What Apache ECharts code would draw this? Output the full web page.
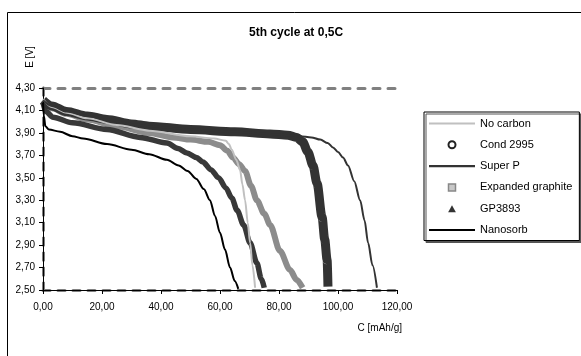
<!DOCTYPE html>
<html>
<head>
<meta charset="utf-8">
<script src="https://cdn.jsdelivr.net/npm/echarts@6/dist/echarts.min.js"></script>
<style>html,body{margin:0;padding:0;background:#fff}#c{width:581px;height:356px}</style>
</head>
<body>
<div id="c"></div>
<script>
// ---- data (C [mAh/g], E [V]) ----
const xTicks = [0, 20, 40, 60, 80, 100, 120];
const yTicks = [2.5, 2.7, 2.9, 3.1, 3.3, 3.5, 3.7, 3.9, 4.1, 4.3];
const legendNames = ['No carbon', 'Cond 2995', 'Super P', 'Expanded graphite', 'GP3893', 'Nanosorb'];

const noCarbonC = [0, 3, 8, 15, 25, 36, 50, 58, 62, 63, 64, 65.5, 66.8, 67.6, 68.5, 69.4, 70.2, 71, 71.9];
const noCarbonE = [4.20, 4.13, 4.08, 4.03, 3.97, 3.92, 3.87, 3.85, 3.83, 3.80, 3.75, 3.66, 3.57, 3.44, 3.30, 3.10, 2.92, 2.72, 2.52];

const condC = [0, 3, 8, 15, 21.7, 30, 36, 50, 65, 77, 83, 86, 88, 89.8, 91.5, 92.9, 94.6, 95.5, 96.3, 96.6];
const condE = [4.19, 4.14, 4.09, 4.05, 4.02, 3.98, 3.96, 3.93, 3.91, 3.89, 3.88, 3.86, 3.82, 3.73, 3.61, 3.45, 3.15, 2.95, 2.77, 2.53];

const superPC = [0, 3, 8, 15, 21.7, 30, 36, 50, 65, 77, 83, 87, 91, 94, 96.5, 98.3, 100, 101.7, 103.4, 105.5, 107.5, 109, 110.2, 111.7, 113.2];
const superPE = [4.19, 4.14, 4.09, 4.05, 4.02, 3.98, 3.96, 3.93, 3.91, 3.89, 3.88, 3.87, 3.86, 3.84, 3.81, 3.77, 3.73, 3.68, 3.61, 3.47, 3.30, 3.12, 2.92, 2.72, 2.52];

const expC = [0, 3, 8, 15, 25, 36, 44, 50, 56, 60, 62.5, 64.4, 66.5, 68.5, 70.5, 72.5, 75, 77, 80.3, 83.7, 86, 88];
const expE = [4.19, 4.12, 4.07, 4.02, 3.96, 3.90, 3.86, 3.84, 3.82, 3.79, 3.74, 3.68, 3.62, 3.56, 3.43, 3.30, 3.18, 3.08, 2.85, 2.68, 2.59, 2.52];

const gpC = [0, 1, 3.4, 10, 21.7, 32.9, 42, 45.8, 48.8, 52, 54.2, 57, 59.5, 62, 64, 65.8, 68, 70.2, 72.5, 74, 75];
const gpE = [4.17, 4.09, 4.04, 3.99, 3.93, 3.86, 3.81, 3.76, 3.72, 3.68, 3.64, 3.57, 3.50, 3.41, 3.32, 3.21, 3.08, 2.92, 2.74, 2.60, 2.52];

const nanoC = [0, 0.3, 0.8, 2, 5.8, 10, 13.6, 21.7, 30, 36, 42, 46, 49, 52, 54.5, 56.6, 58.3, 60, 61.7, 63.4, 65, 66.2];
const nanoE = [4.17, 4.05, 3.96, 3.93, 3.91, 3.87, 3.85, 3.80, 3.75, 3.71, 3.66, 3.61, 3.56, 3.49, 3.40, 3.30, 3.16, 3.01, 2.86, 2.70, 2.58, 2.51];

const pairs = (xs, ys) => xs.map((x, i) => [x, ys[i]]);
const fmt = v => Number(v).toFixed(2).replace('.', ',');
const FONT = 'Arial, "Liberation Sans", sans-serif';

const dashAxis = (pos) => ({
  position: pos, axisLine: { show: true, lineStyle: { color: '#808080', width: 3, type: [7, 8] } },
  axisTick: { show: false }, axisLabel: { show: false }, splitLine: { show: false }, z: 1
});

const chart = echarts.init(document.getElementById('c'), null, { renderer: 'canvas' });
const line = (name, data, color, width, z) => ({
  name, type: 'line', data: pairs(data[0], data[1]), symbol: 'none', smooth: 0.3, smoothMonotone: 'x',
  lineStyle: { color, width }, itemStyle: { color }, z, animation: false
});

const LINE_ICON = 'path://M0,0 H48 V2.2 H0 Z';
const SQUARE_ICON = 'path://M0,0 H10 V10 H0 Z';
const TRI_ICON = 'path://M5,0 L10,9 L0,9 Z';

chart.setOption({
  animation: false,
  textStyle: { fontFamily: FONT },
  title: { text: '5th cycle at 0,5C', left: 244, top: 22, textStyle: { fontSize: 12, fontWeight: 'bold', color: '#000', fontFamily: FONT } },
  grid: { left: 43, right: 184, top: 88, bottom: 66 },
  xAxis: [
    { type: 'value', min: xTicks[0], max: xTicks[xTicks.length - 1], interval: 20, position: 'bottom', z: 5,
      axisLine: { lineStyle: { color: '#000', width: 1 } },
      axisTick: { show: true, inside: false, length: 4, lineStyle: { color: '#000' } },
      axisLabel: { formatter: fmt, color: '#000', fontSize: 10, margin: 12, fontFamily: FONT },
      splitLine: { show: false } },
    Object.assign({ type: 'value', min: 0, max: 120 }, dashAxis('top')),
    Object.assign({ type: 'value', min: 0, max: 120 }, dashAxis('bottom'))
  ],
  yAxis: [
    { type: 'value', min: yTicks[0], max: yTicks[yTicks.length - 1], position: 'left', z: 5,
      axisLine: { show: true, lineStyle: { color: '#000', width: 1 } },
      axisTick: { show: true, inside: false, length: 4, lineStyle: { color: '#000' }, customValues: yTicks },
      axisLabel: { formatter: fmt, color: '#000', fontSize: 10, margin: 8, fontFamily: FONT, customValues: yTicks },
      splitLine: { show: false } },
    Object.assign({ type: 'value', min: 2.5, max: 4.3 }, dashAxis('right')),
    Object.assign({ type: 'value', min: 2.5, max: 4.3 }, dashAxis('left'))
  ],
  legend: {
    orient: 'vertical', left: 424, top: 112,
    padding: [6, 7, 5, 5], itemWidth: 46, itemHeight: 7, itemGap: 10.3,
    backgroundColor: '#fff', borderColor: '#000', borderWidth: 1,
    shadowColor: '#555', shadowOffsetX: 2, shadowOffsetY: 2, shadowBlur: 0,
    textStyle: { fontSize: 11, color: '#000', fontFamily: FONT },
    selectedMode: false,
    data: [
      { name: legendNames[0], icon: LINE_ICON, itemStyle: { color: '#c0c0c0', borderWidth: 0 } },
      { name: legendNames[1], icon: 'circle', itemStyle: { color: '#fff', borderColor: '#222', borderWidth: 2 } },
      { name: legendNames[2], icon: LINE_ICON, itemStyle: { color: '#333', borderWidth: 0 } },
      { name: legendNames[3], icon: SQUARE_ICON, itemStyle: { color: '#c8c8c8', borderColor: '#888', borderWidth: 1.5 } },
      { name: legendNames[4], icon: TRI_ICON, itemStyle: { color: '#333', borderWidth: 0 } },
      { name: legendNames[5], icon: LINE_ICON, itemStyle: { color: '#000', borderWidth: 0 } }
    ]
  },
  graphic: [
    { type: 'rect', shape: { x: 7.5, y: 12.5, width: 640, height: 400 }, style: { fill: null, stroke: '#000', lineWidth: 1 }, silent: true, z: 0 },
    { type: 'text', x: 30, y: 57, rotation: Math.PI / 2, style: { text: 'E [V]', font: '10px ' + FONT, fill: '#000', align: 'center', verticalAlign: 'middle' } },
    { type: 'text', x: 402, y: 328, style: { text: 'C [mAh/g]', font: '10px ' + FONT, fill: '#000', align: 'right', verticalAlign: 'middle' } }
  ],
  series: [
    line(legendNames[3], [expC, expE], '#8c8c8c', 6, 2),
    line(legendNames[4], [gpC, gpE], '#383838', 5.5, 3),
    line(legendNames[1], [condC, condE], '#333333', 9, 4),
    line(legendNames[0], [noCarbonC, noCarbonE], '#c0c0c0', 2, 5),
    line(legendNames[2], [superPC, superPE], '#333333', 2, 6),
    line(legendNames[5], [nanoC, nanoE], '#000000', 2, 7)
  ]
});
</script>
</body>
</html>
